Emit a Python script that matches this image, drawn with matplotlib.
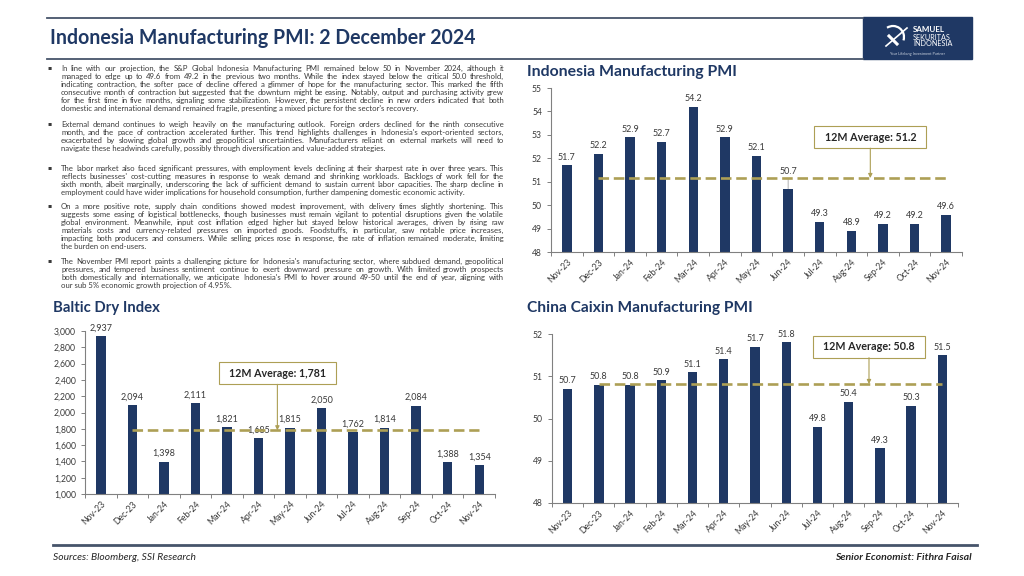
import matplotlib
matplotlib.use('Agg')
import matplotlib.pyplot as plt
from matplotlib.font_manager import FontProperties
from matplotlib.patches import Rectangle, Arc

plt.rcParams['font.family'] = ['Lato', 'DejaVu Sans']

months = ['Nov-23', 'Dec-23', 'Jan-24', 'Feb-24', 'Mar-24', 'Apr-24', 'May-24',
          'Jun-24', 'Jul-24', 'Aug-24', 'Sep-24', 'Oct-24', 'Nov-24']
indo_pmi = [51.7, 52.2, 52.9, 52.7, 54.2, 52.9, 52.1, 50.7, 49.3, 48.9, 49.2, 49.2, 49.6]
baltic_dry = [2937, 2094, 1398, 2111, 1821, 1685, 1815, 2050, 1762, 1814, 2084, 1388, 1354]
china_pmi = [50.7, 50.8, 50.8, 50.9, 51.1, 51.4, 51.7, 51.8, 49.8, 50.4, 49.3, 50.3, 51.5]

paragraphs = [
    ["In line with our projection, the S&P Global Indonesia Manufacturing PMI remained below 50 in November 2024, although it",
     "managed to edge up to 49.6 from 49.2 in the previous two months. While the index stayed below the critical 50.0 threshold,",
     "indicating contraction, the softer pace of decline offered a glimmer of hope for the manufacturing sector. This marked the fifth",
     "consecutive month of contraction but suggested that the downturn might be easing. Notably, output and purchasing activity grew",
     "for the first time in five months, signaling some stabilization. However, the persistent decline in new orders indicated that both",
     "domestic and international demand remained fragile, presenting a mixed picture for the sector's recovery."],
    ["External demand continues to weigh heavily on the manufacturing outlook. Foreign orders declined for the ninth consecutive",
     "month, and the pace of contraction accelerated further. This trend highlights challenges in Indonesia's export-oriented sectors,",
     "exacerbated by slowing global growth and geopolitical uncertainties. Manufacturers reliant on external markets will need to",
     "navigate these headwinds carefully, possibly through diversification and value-added strategies."],
    ["The labor market also faced significant pressures, with employment levels declining at their sharpest rate in over three years. This",
     "reflects businesses' cost-cutting measures in response to weak demand and shrinking workloads. Backlogs of work fell for the",
     "sixth month, albeit marginally, underscoring the lack of sufficient demand to sustain current labor capacities. The sharp decline in",
     "employment could have wider implications for household consumption, further dampening domestic economic activity."],
    ["On a more positive note, supply chain conditions showed modest improvement, with delivery times slightly shortening. This",
     "suggests some easing of logistical bottlenecks, though businesses must remain vigilant to potential disruptions given the volatile",
     "global environment. Meanwhile, input cost inflation edged higher but stayed below historical averages, driven by rising raw",
     "materials costs and currency-related pressures on imported goods. Foodstuffs, in particular, saw notable price increases,",
     "impacting both producers and consumers. While selling prices rose in response, the rate of inflation remained moderate, limiting",
     "the burden on end-users."],
    ["The November PMI report paints a challenging picture for Indonesia's manufacturing sector, where subdued demand, geopolitical",
     "pressures, and tempered business sentiment continue to exert downward pressure on growth. With limited growth prospects",
     "both domestically and internationally, we anticipate Indonesia's PMI to hover around 49-50 until the end of year, aligning with",
     "our sub 5% economic growth projection of 4.95%."],
]
para_top = [68, 124, 168, 206, 261]   # y pixel of first line of each bullet

NAVY = '#1f3864'
KHAKI = '#ad9f55'
GREY = '#3a3a3a'
W, H = 1024, 576
FAM = ['Lato', 'DejaVu Sans']


def fx(px):
    return px / W


def fy(py):
    return 1 - py / H


fig = plt.figure(figsize=(10.24, 5.76), dpi=100)
r = fig.canvas.get_renderer()


def text_w(s, size, **kw):
    fp = FontProperties(family=FAM, size=size, **kw)
    return r.get_text_width_height_descent(s, fp, ismath=False)[0]


def fit(s, target, **kw):
    # font size that makes s about target pixels wide
    return 10 * target / text_w(s, 10, **kw)


# header
fig.add_artist(plt.Line2D([fx(47), fx(863)], [fy(18), fy(18)], color='#46546a', lw=1.3))
fig.add_artist(plt.Line2D([fx(47), fx(863)], [fy(58.5), fy(58.5)], color='#46546a', lw=1.3))
head = 'Indonesia Manufacturing PMI: 2 December 2024'
fig.text(fx(50), fy(38.5), head, fontsize=fit(head, 426, weight='bold'),
         fontweight='bold', color=NAVY, va='center')

# logo
fig.add_artist(Rectangle((fx(863), fy(59)), fx(972) - fx(863), (59 - 17) / H,
                         transform=fig.transFigure, color=NAVY))
fig.add_artist(Arc((fx(893), fy(37)), 22 / W, 22 / H, theta1=-30, theta2=110,
                   transform=fig.transFigure, color='white', lw=1.6))
fig.add_artist(plt.Line2D([fx(886), fx(907)], [fy(46), fy(28)], color='white', lw=1.2))
fig.add_artist(plt.Line2D([fx(889), fx(897)], [fy(36), fy(44)], color='white', lw=2.2))
fig.text(fx(913), fy(30), 'SAMUEL', fontsize=5.8, fontweight='bold', color='white', va='center')
fig.text(fx(913), fy(37.5), 'SEKURITAS', fontsize=5.2, color='white', va='center')
fig.text(fx(913), fy(44), 'INDONESIA', fontsize=5.2, color='white', va='center')
fig.text(fx(917), fy(54.5), 'Your Lifelong Investment Partner', fontsize=2.8, color='#c8d0dc',
         va='center', ha='center')

# commentary text, justified word by word
x0, x1 = 61, 504
widest = max(text_w(line, 10) for lines in paragraphs for line in lines[:-1])
size = 10 * (x1 - x0) / widest * 0.995
fp = FontProperties(family=FAM, size=size)
line_gap = 8.1
for lines, top in zip(paragraphs, para_top):
    fig.text(fx(47.5), fy(top), '\u25aa', fontsize=4.5, color=GREY, va='center',
             family=['DejaVu Sans'])
    for i, line in enumerate(lines):
        y = fy(top + i * line_gap + 2.6)   # baseline
        if i == len(lines) - 1:
            fig.text(fx(x0), y, line, fontproperties=fp, color=GREY, va='baseline')
            continue
        words = line.split(' ')
        widths = [r.get_text_width_height_descent(wd, fp, ismath=False)[0] for wd in words]
        gap = (x1 - x0 - sum(widths)) / (len(words) - 1)
        x = x0
        for wd, wdw in zip(words, widths):
            fig.text(fx(x), y, wd, fontproperties=fp, color=GREY, va='baseline')
            x += wdw + gap


def bar_chart(px_box, title, title_xy, title_w, values, ylim, yticks, fmt, avg_box,
              label_moves=None):
    left, top, right, bottom = px_box
    ax = fig.add_axes([fx(left), fy(bottom), (right - left) / W, (bottom - top) / H])
    xs = list(range(len(values)))
    ax.bar(xs, values, width=0.3, color=NAVY, zorder=2)
    ax.set_xlim(-0.5, len(values) - 0.5)
    ax.set_ylim(*ylim)
    ax.set_yticks(yticks)
    ax.set_yticklabels([fmt(v) for v in yticks])
    ax.set_xticks(xs)
    ax.set_xticklabels(months, rotation=45, ha='right', rotation_mode='anchor')
    ax.set_xticks([i - 0.5 for i in range(len(values) + 1)], minor=True)
    ax.tick_params(axis='x', which='major', length=0, labelsize=6.2, colors=GREY, pad=4)
    ax.tick_params(axis='x', which='minor', length=3, color='#808080', width=0.7)
    ax.tick_params(axis='y', length=3, labelsize=6.2, colors=GREY, color='#808080', width=0.7)
    for s in ['top', 'right']:
        ax.spines[s].set_visible(False)
    for s in ['left', 'bottom']:
        ax.spines[s].set_color('#808080')
        ax.spines[s].set_linewidth(0.8)

    moves = label_moves or {}
    for i, v in enumerate(values):
        if i in moves:
            ax.annotate(fmt(v), (i, v), xytext=(i, moves[i]), ha='center', va='bottom',
                        fontsize=6.5, color=GREY,
                        arrowprops=dict(arrowstyle='-', color='#909090', lw=0.5, shrinkA=0, shrinkB=0))
        else:
            ax.annotate(fmt(v), (i, v), xytext=(0, 2.5), textcoords='offset points',
                        ha='center', va='bottom', fontsize=6.5, color=GREY)

    last12 = values[-12:]
    avg = sum(last12) / len(last12)
    ax.plot([1, len(values) - 1], [avg, avg], color=KHAKI, lw=1.9, ls=(0, (4, 1.8)), zorder=3)

    # average call-out box with arrow down to the line
    bx, by, tw = avg_box
    label = '12M Average: ' + (fmt(round(avg, 1)) if avg < 100 else fmt(avg))
    px_x = (right - left) / len(values)
    px_y = (bottom - top) / (ylim[1] - ylim[0])
    bw, bh = (tw + 20) / px_x, 22 / px_y
    ax.add_patch(Rectangle((bx - bw / 2, by - bh / 2), bw, bh, fc='white', ec=KHAKI,
                           lw=0.8, zorder=4))
    ax.text(bx, by, label, ha='center', va='center', fontsize=fit(label, tw, weight='bold'),
            fontweight='bold', color='#262626', zorder=5)
    ax.annotate('', (bx, avg), xytext=(bx, by - bh / 2), zorder=4,
                arrowprops=dict(arrowstyle='-|>', color=KHAKI, lw=0.8, mutation_scale=6,
                                shrinkA=0, shrinkB=0))
    fig.text(fx(title_xy[0]), fy(title_xy[1]), title, fontsize=fit(title, title_w, weight='bold'),
             fontweight='bold', color=NAVY, va='center')
    return ax


def pmi_fmt(v):
    return f'{v:.1f}' if v % 1 else f'{v:.0f}'


bar_chart((551, 88, 962, 252), 'Indonesia Manufacturing PMI', (527, 72), 210, indo_pmi,
          (48, 55), list(range(48, 56)), pmi_fmt, (9.6, 52.9, 92), label_moves={7: 51.25})
bar_chart((85, 331, 495, 494), 'Baltic Dry Index', (53, 308), 107, baltic_dry,
          (1000, 3000), list(range(1000, 3001, 200)), lambda v: f'{v:,.0f}',
          (5.6, 2480, 97))
bar_chart((552, 334, 958, 503), 'China Caixin Manufacturing PMI', (527, 308), 225, china_pmi,
          (48, 52), list(range(48, 53)), pmi_fmt, (9.65, 51.7, 92))

# footer
fig.add_artist(plt.Line2D([fx(53), fx(977)], [fy(545), fy(545)], color='#46546a', lw=2))
src = 'Sources: Bloomberg, SSI Research'
fig.text(fx(53), fy(557), src, fontsize=fit(src, 143, style='italic'), style='italic',
         color='#262626', va='center')
auth = 'Senior Economist: Fithra Faisal'
fig.text(fx(972), fy(557), auth, fontsize=fit(auth, 136, style='italic', weight='bold'),
         style='italic', fontweight='bold', color='#262626', va='center', ha='right')

fig.savefig('out.png', dpi=100)
